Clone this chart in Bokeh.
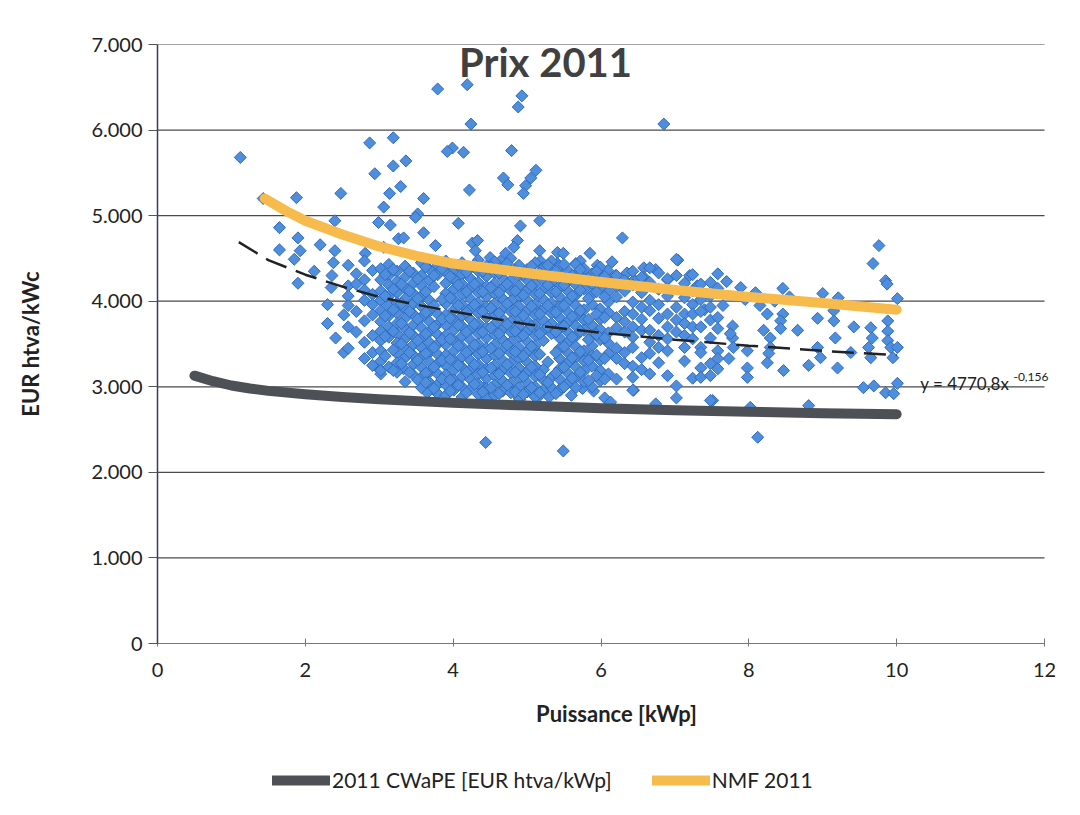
from bokeh.plotting import figure
from bokeh.layouts import column
from bokeh.models import Range1d, Legend, LegendItem, Label, FixedTicker
from bokeh.embed import file_html
from bokeh.resources import INLINE

FONT = "Lato"

# ---------------- data ----------------
y_tick_values = [0, 1000, 2000, 3000, 4000, 5000, 6000, 7000]
y_tick_labels = ["0", "1.000", "2.000", "3.000", "4.000", "5.000", "6.000", "7.000"]
x_tick_values = [0, 2, 4, 6, 8, 10, 12]

cwape_x = [0.5, 0.75, 1.0, 1.25, 1.5, 2, 2.5, 3, 4, 5, 6, 7, 8, 9, 10]
cwape_y = [3130, 3065, 3015, 2980, 2952, 2912, 2880, 2855, 2812, 2780, 2748, 2726, 2708, 2692, 2680]

nmf_x = [1.45, 1.75, 2, 2.5, 3, 3.5, 4, 5, 6, 7, 8, 9, 10]
nmf_y = [5200, 5050, 4940, 4780, 4640, 4530, 4440, 4330, 4225, 4130, 4050, 3980, 3900]

trend_x = [1.1, 1.5, 2, 2.5, 3, 3.5, 4, 5, 6, 7, 8, 9, 10]
trend_y = [4690, 4480, 4310, 4170, 4050, 3960, 3880, 3730, 3630, 3550, 3480, 3420, 3370]

# scattered individual installations
points_x = [
    1.12, 1.43, 1.88, 2.48, 2.87, 2.94, 3.79, 4.19, 4.93, 4.88, 4.24, 3.19, 3.99, 3.92, 4.14, 4.79,
    3.19, 3.36, 4.68, 4.74, 5.12, 5.05, 4.98, 4.95, 4.22, 3.29, 3.14, 3.06, 3.60, 3.52, 3.49, 4.07,
    4.91, 5.17, 3.60, 3.26, 3.06, 4.26, 4.33, 4.30, 4.87, 4.82, 4.71, 4.64, 3.76, 2.81, 4.50, 5.17,
    5.18, 5.41, 5.49, 5.41, 5.66, 5.72, 5.85, 5.99, 6.09, 6.85, 6.29, 7.04, 6.35, 6.58, 6.58, 6.74,
    2.99, 3.15, 3.33,
    1.65, 1.90, 1.93, 1.65, 2.20, 2.40, 1.85, 1.90, 2.12, 2.40, 2.38, 2.36, 2.35, 2.30, 2.52, 2.30,
    2.41, 2.52, 2.98, 3.02, 3.33, 3.60, 3.65,
    4.41, 4.50, 4.91, 5.14, 5.45, 5.75, 4.44, 5.49, 4.90, 5.30, 5.60, 5.90, 6.05, 6.13, 6.44, 6.74,
    7.89, 8.09, 8.46, 9.00, 8.55, 9.15, 9.15, 8.93, 8.66, 8.46, 8.43, 8.43, 8.29, 8.29, 8.27, 8.25,
    8.47, 9.65, 9.67, 9.62, 9.65, 9.88, 9.88, 9.88, 9.92, 9.95, 10.01, 9.55, 9.69, 9.85, 10.01, 9.96,
    9.38, 9.17, 9.20, 8.81, 8.93, 8.97, 8.81, 8.12, 8.02, 7.98, 7.98, 7.78, 7.78, 7.79, 7.98, 7.73,
    7.75, 8.25, 8.20, 9.42, 9.76, 9.68, 9.85, 9.87, 10.01, 7.51, 9.21,
    6.20, 6.45, 6.90, 7.20, 7.30, 7.70, 7.95, 8.15, 8.35, 7.65, 7.40, 5.95, 6.15,
]
points_y = [
    5680, 5200, 5210, 5260, 5850, 5490, 6480, 6530, 6400, 6270, 6070, 5910, 5790, 5750, 5740, 5760,
    5580, 5640, 5440, 5360, 5530, 5440, 5350, 5260, 5300, 5340, 5260, 5100, 5200, 5020, 4980, 4910,
    4880, 4940, 4800, 4730, 4630, 4680, 4710, 4590, 4710, 4630, 4560, 4470, 4650, 4560, 4510, 4590,
    4470, 4570, 4560, 4440, 4440, 4470, 4560, 4330, 4360, 6070, 4740, 4480, 4330, 4390, 4280, 4370,
    4920, 4890, 4740,
    4860, 4740, 4590, 4600, 4660, 4940, 4490, 4210, 4350, 4590, 4450, 4300, 4160, 3960, 3840, 3740,
    3570, 3400, 3220, 3150, 3210, 3130, 2930,
    2990, 2870, 2920, 2870, 2960, 2980, 2350, 2250, 2850, 2880, 2900, 2950, 2870, 2820, 2960, 2800,
    4160, 4100, 4150, 4090, 4050, 3890, 3770, 3800, 3660, 3850, 3770, 3680, 3570, 3460, 3390, 3280,
    3190, 3690, 3570, 3460, 3340, 3770, 3650, 3540, 3460, 3340, 3460, 2990, 3010, 2930, 3040, 2920,
    3400, 3570, 3220, 3250, 3460, 3340, 2780, 2410, 2760, 3220, 3110, 3710, 3570, 3460, 3420, 3330,
    3620, 3850, 3660, 3700, 4650, 4440, 4240, 4200, 4030, 2840, 4040,
    4300, 4250, 4250, 4300, 4180, 4230, 4020, 3950, 4000, 3950, 3900, 4420, 4460,
]

# dense core of the cloud, read column by column (x position, then the y values seen there)
core_col_x = [
    2.58, 2.69, 2.80, 2.91, 3.02, 3.13, 3.24, 3.35, 3.46, 3.57, 3.68, 3.79, 3.90, 4.01, 4.12, 4.23,
    4.34, 4.45, 4.56, 4.67, 4.78, 4.89, 5.00, 5.11, 5.22, 5.33, 5.44, 5.55, 5.66, 5.77, 5.88, 5.99,
    6.10, 6.21, 6.32, 6.43, 6.55, 6.66, 6.78, 6.90, 7.02, 7.13, 7.24, 7.35, 7.48, 7.58,
]
core_col_y = [
    [4420, 4180, 4060, 3950, 3700, 3450],
    [4320, 4200, 3880, 3640],
    [4470, 4250, 4130, 4010, 3770, 3520, 3330],
    [4360, 4080, 3960, 3840, 3600, 3400, 3250],
    [4380, 4250, 4120, 4010, 3890, 3760, 3650, 3540, 3420, 3300, 3190],
    [4430, 4300, 4190, 4060, 3950, 3830, 3700, 3580, 3230],
    [4350, 4230, 4100, 3980, 3860, 3740, 3620, 3510, 3390, 3280, 3170],
    [4410, 4280, 4150, 4030, 3910, 3800, 3680, 3560, 3450, 3340, 3060],
    [4330, 4210, 4090, 3970, 3850, 3720, 3600, 3490, 3370, 3260, 3140],
    [4450, 4300, 4180, 4060, 3940, 3810, 3690, 3570, 3460, 3350, 3230, 3110, 2990],
    [4370, 4240, 4010, 3880, 3760, 3640, 3520, 3400, 3290, 3170, 3050],
    [4420, 4310, 3850, 3730, 3610, 3500, 3380, 3270, 3150, 3030, 2920],
    [4470, 4340, 4210, 4090, 3970, 3840, 3720, 3600, 3490, 3370, 3250, 3140, 3020, 2900],
    [4380, 4260, 4140, 4020, 3900, 3780, 3660, 3540, 3420, 3310, 3190, 3080, 2960],
    [4450, 4320, 4200, 4080, 3960, 3830, 3710, 3590, 3470, 3350, 3230, 3120, 3000, 2880],
    [4390, 4270, 4150, 4030, 3910, 3790, 3670, 3550, 3430, 3310, 3200, 3090, 2970],
    [4480, 4350, 4220, 4100, 3980, 3860, 3740, 3620, 3500, 3380, 3260, 3150, 3030, 2910],
    [4410, 4290, 4170, 4050, 3930, 3810, 3690, 3570, 3450, 3330, 3210, 3100, 2980, 2870],
    [4460, 4330, 4210, 4090, 3970, 3850, 3730, 3610, 3490, 3370, 3250, 3130, 3020, 2900],
    [4390, 4270, 4150, 4030, 3910, 3790, 3670, 3550, 3430, 3310, 3190, 3070, 2950],
    [4500, 4360, 4240, 4120, 4000, 3880, 3760, 3640, 3520, 3400, 3280, 3160, 3040, 2930],
    [4420, 4300, 4180, 4060, 3940, 3820, 3700, 3580, 3460, 3340, 3220, 3100, 2990, 2870],
    [4370, 4250, 4130, 4010, 3890, 3770, 3650, 3530, 3410, 3290, 3170, 3050, 2940],
    [4450, 4320, 4200, 4080, 3960, 3840, 3720, 3600, 3480, 3360, 3240, 3120, 3000, 2880],
    [4390, 4260, 4140, 4020, 3900, 3780, 3660, 3540, 3200, 3080, 2960],
    [4470, 4340, 4220, 4100, 3980, 3860, 3740, 3620, 3110, 2990],
    [4410, 4290, 4170, 4050, 3930, 3810, 3690, 3570, 3450, 3330, 3210, 3090, 2970],
    [4360, 4240, 4120, 4000, 3880, 3760, 3640, 3520, 3400, 3280, 3160, 3040],
    [4430, 4310, 4190, 4070, 3950, 3830, 3710, 3590, 3470, 3350, 3230, 3110, 2990],
    [4380, 4260, 4140, 3900, 3780, 3660, 3420, 3300, 3180, 3060],
    [4320, 4200, 4080, 3960, 3720, 3600, 3480, 3360, 3240, 3000],
    [4400, 4270, 4150, 3910, 3790, 3670, 3550, 3310, 3190, 3070],
    [4230, 4110, 3990, 3870, 3630, 3510, 3390, 3150],
    [4300, 4170, 4050, 3810, 3690, 3450, 3330, 3090],
    [4240, 4120, 3880, 3760, 3640, 3400, 3270],
    [4350, 4190, 3990, 3850, 3700, 3580, 3460, 3240, 3110, 2960],
    [4280, 4100, 3930, 3790, 3660, 3340, 3200],
    [4390, 4220, 4010, 3890, 3660, 3520, 3390, 3150],
    [4330, 4140, 3960, 3800, 3600, 3460, 3280],
    [4260, 4060, 3850, 3700, 3560, 3420, 3130],
    [4490, 4300, 3930, 3780, 3640, 3010, 2870],
    [4210, 4040, 3850, 3740, 3600, 3460, 3300],
    [4310, 4120, 3960, 3850, 3700, 3560, 3100],
    [4200, 4020, 3880, 3700, 3460, 3400, 3220, 3110],
    [4220, 4060, 3930, 3780, 3570, 3270, 3130, 2840],
    [4320, 4150, 3810, 3680, 3420, 3330, 3210],
]

# second pass over the densest part of the cloud (points lying between the columns above)
fill_col_x = [
    3.08, 3.19, 3.30, 3.41, 3.52, 3.63, 3.74, 3.85, 3.96, 4.07, 4.18, 4.29, 4.40, 4.51,
    4.62, 4.73, 4.84, 4.95, 5.06, 5.17, 5.28, 5.39, 5.50, 5.61, 5.72, 5.83, 5.94, 6.05,
]
fill_col_y = [
    [4310, 4060, 3830, 3590, 3360],
    [4370, 4140, 3900, 3650, 3430, 3190],
    [4200, 3970, 3740, 3500, 3270],
    [4350, 4120, 3880, 3630, 3400, 3170],
    [4260, 4030, 3790, 3540, 3310, 3080],
    [4400, 4110, 3870, 3620, 3390, 3160, 3050],
    [4300, 4170, 3950, 3700, 3460, 3230, 2980],
    [4380, 4020, 3790, 3550, 3310, 3090],
    [4290, 4040, 3800, 3560, 3320, 3080, 2950],
    [4420, 4190, 3950, 3720, 3480, 3250, 3020],
    [4340, 4110, 3870, 3640, 3400, 3170, 2930],
    [4430, 4200, 3960, 3730, 3490, 3260, 3030],
    [4350, 4110, 3880, 3640, 3410, 3170, 2940],
    [4400, 4160, 3920, 3690, 3450, 3220, 2990],
    [4330, 4100, 3860, 3620, 3390, 3150, 2920],
    [4440, 4200, 3970, 3730, 3490, 3260, 3020],
    [4360, 4120, 3880, 3650, 3410, 3170, 2940],
    [4310, 4070, 3830, 3600, 3360, 3120, 2910],
    [4410, 4180, 3940, 3710, 3470, 3230, 2990],
    [4330, 4090, 3850, 3620, 3380, 3140, 2930],
    [4420, 4190, 3950, 3700, 3290, 3050],
    [4350, 4110, 3870, 3640, 3400, 3160, 2920],
    [4430, 4190, 3950, 3710, 3470, 3230, 3000],
    [4300, 4060, 3820, 3580, 3340, 3100],
    [4370, 4130, 3890, 3650, 3410, 3170],
    [4270, 4030, 3790, 3550, 3310, 3070],
    [4350, 4110, 3850, 3610, 3370, 3130],
    [4290, 4050, 3810, 3570, 3330, 3090],
]

# legend entries
legend_labels = ["2011 CWaPE [EUR htva/kWp]", "NMF 2011"]

# build the full scatter table
all_x = list(points_x)
all_y = list(points_y)
for cols_x, cols_y in ((core_col_x, core_col_y), (fill_col_x, fill_col_y)):
    for cx, ys in zip(cols_x, cols_y):
        for yv in ys:
            all_x.append(cx)
            all_y.append(yv)

CW_STYLE = dict(line_color="#4D5155", line_width=10, line_cap="round", line_join="round")
NMF_STYLE = dict(line_color="#F7BB4D", line_width=10, line_cap="round", line_join="round")

X_MAX = x_tick_values[-1]
# the plotting area keeps x = 0..12 between px 157 and 1044; the frame is widened to px 1075 so the
# trend-line equation (which overhangs the plot area) is not clipped
FRAME_L, AXIS_R, FRAME_R = 157, 1044, 1075
x_end = X_MAX * (FRAME_R - FRAME_L) / (AXIS_R - FRAME_L)

# ---------------- main chart ----------------
p = figure(width=1080, height=750, output_backend="svg", toolbar_location=None,
           x_range=Range1d(0, x_end), y_range=Range1d(0, 7000),
           min_border_left=FRAME_L, min_border_right=1080 - FRAME_R, min_border_top=44, min_border_bottom=107,
           background_fill_color="white", border_fill_color="white")
p.outline_line_color = None

# horizontal grid lines, limited to the x axis extent
p.xgrid.visible = False
p.ygrid.visible = False
p.segment(x0=[0] * len(y_tick_values), x1=[X_MAX] * len(y_tick_values),
          y0=y_tick_values, y1=y_tick_values, line_color="#4a4a4a", line_width=1.2)

# axes
p.yaxis.ticker = FixedTicker(ticks=y_tick_values)
p.yaxis.major_label_overrides = {v: l for v, l in zip(y_tick_values, y_tick_labels)}
p.xaxis.ticker = FixedTicker(ticks=x_tick_values)
p.xaxis.bounds = (0, X_MAX)
for ax in (p.xaxis[0], p.yaxis[0]):
    ax.major_label_text_font = FONT
    ax.major_label_text_font_size = "20px"
    ax.major_label_text_color = "#222222"
    ax.axis_label_text_font = FONT
    ax.axis_label_text_font_style = "bold"
    ax.axis_label_text_font_size = "22px"
    ax.axis_label_text_color = "#222222"
    ax.minor_tick_line_color = None
p.yaxis.axis_line_color = "#3a3a60"
p.yaxis.axis_line_width = 1.5
p.yaxis.major_tick_line_color = "#555555"
p.yaxis.major_tick_out = 9
p.yaxis.major_tick_in = 0
p.yaxis.major_label_standoff = 6
p.yaxis.axis_label = "EUR htva/kWc"
p.yaxis.axis_label_standoff = 44
p.xaxis.axis_line_color = "#777777"
p.xaxis.major_tick_line_color = "#777777"
p.xaxis.major_tick_in = 5
p.xaxis.major_tick_out = 3
p.xaxis.major_label_standoff = 16
p.xaxis.axis_label = "Puissance [kWp]"
p.xaxis.axis_label_standoff = 20

# scatter
p.scatter(all_x, all_y, marker="square", size=8.5, angle=0.785398,
          fill_color="#4F8EDC", line_color="#2F6BBF", line_width=1)

# series lines
p.line(cwape_x, cwape_y, **CW_STYLE)
p.line(nmf_x, nmf_y, **NMF_STYLE)
p.line(trend_x, trend_y, line_color="#222222", line_width=2.5, line_dash="22 10")

# title
p.add_layout(Label(x=5.25, y=6790, text="Prix 2011", text_font=FONT, text_font_style="bold",
                   text_font_size="40px", text_color="#404040", text_align="center", text_baseline="middle"))

# trend equation
p.add_layout(Label(x=10.32, y=3040, text="y = 4770,8x", text_font=FONT, text_font_size="17px",
                   text_color="#222222", text_align="left", text_baseline="middle"))
p.add_layout(Label(x=11.58, y=3120, text="-0,156", text_font=FONT, text_font_size="12px",
                   text_color="#222222", text_align="left", text_baseline="middle"))

# ---------------- legend strip ----------------
# (its frame is aligned with the main chart frame, which starts at px 157)
lg = figure(width=1080, height=65, output_backend="svg", toolbar_location=None,
            x_range=Range1d(0, 1), y_range=Range1d(0, 1),
            x_axis_location=None, y_axis_location=None,
            min_border_left=0, min_border_right=0, min_border_top=0, min_border_bottom=0,
            background_fill_color="white", border_fill_color="white")
lg.outline_line_color = None
lg.grid.visible = False
# the same series, drawn outside this strip's visible range: only their legend samples show
r_cw = lg.line(cwape_x, cwape_y, **CW_STYLE)
r_nmf = lg.line(nmf_x, nmf_y, **NMF_STYLE)
legend = Legend(items=[LegendItem(label=legend_labels[0], renderers=[r_cw]),
                       LegendItem(label=legend_labels[1], renderers=[r_nmf])],
                orientation="horizontal", location=(115, 23),
                border_line_color=None, background_fill_alpha=0,
                label_text_font=FONT, label_text_font_size="21px", label_text_color="#222222",
                glyph_width=58, glyph_height=22, label_standoff=2, spacing=40, padding=0, margin=0)
lg.add_layout(legend)

layout = column(p, lg, spacing=0)
open("out.html", "w").write(file_html(layout, INLINE))
